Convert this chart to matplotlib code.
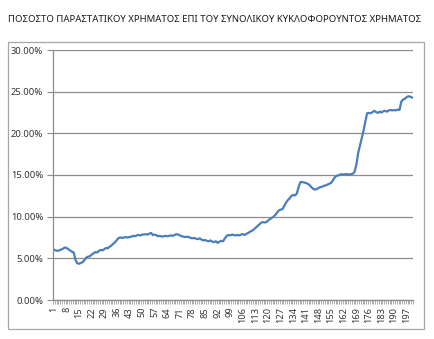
import matplotlib.pyplot as plt
from matplotlib.patches import Rectangle
from matplotlib.ticker import FixedLocator, PercentFormatter

plt.rcParams['font.family'] = ['Noto Sans', 'DejaVu Sans']

title = "ΠΟΣΟΣΤΟ ΠΑΡΑΣΤΑΤΙΚΟΥ ΧΡΗΜΑΤΟΣ ΕΠΙ ΤΟΥ ΣΥΝΟΛΙΚΟΥ ΚΥΚΛΟΦΟΡΟΥΝΤΟΣ ΧΡΗΜΑΤΟΣ"

# share of fiat money in total money in circulation (%), one value per period
share = [
    6.05, 5.95, 5.90, 5.95, 6.05, 6.15, 6.30, 6.25, 6.10, 5.95,
    5.80, 5.70, 4.80, 4.40, 4.35, 4.45, 4.55, 4.80, 5.10, 5.20,
    5.25, 5.45, 5.60, 5.75, 5.70, 5.90, 6.00, 5.95, 6.10, 6.25,
    6.20, 6.40, 6.55, 6.75, 6.95, 7.20, 7.45, 7.50, 7.45, 7.50,
    7.55, 7.50, 7.55, 7.60, 7.70, 7.65, 7.75, 7.80, 7.75, 7.85,
    7.85, 7.90, 7.85, 7.95, 8.05, 7.80, 7.85, 7.75, 7.65, 7.70,
    7.60, 7.65, 7.70, 7.65, 7.70, 7.75, 7.70, 7.80, 7.90, 7.85,
    7.75, 7.65, 7.60, 7.55, 7.60, 7.55, 7.45, 7.40, 7.45, 7.35,
    7.30, 7.40, 7.25, 7.15, 7.20, 7.10, 7.05, 7.15, 7.00, 6.95,
    7.05, 6.85, 7.00, 7.10, 7.05, 7.40, 7.70, 7.80, 7.75, 7.85,
    7.80, 7.75, 7.80, 7.75, 7.85, 7.90, 7.80, 7.95, 8.05, 8.20,
    8.30, 8.45, 8.65, 8.85, 9.05, 9.25, 9.35, 9.30, 9.35, 9.55,
    9.70, 9.85, 10.00, 10.20, 10.50, 10.75, 10.85, 10.90, 11.30, 11.70,
    12.00, 12.20, 12.50, 12.60, 12.55, 12.80, 13.60, 14.15, 14.15, 14.10,
    14.05, 13.95, 13.80, 13.55, 13.35, 13.25, 13.30, 13.45, 13.55, 13.60,
    13.70, 13.75, 13.85, 13.95, 14.05, 14.35, 14.70, 14.90, 14.95, 15.05,
    15.10, 15.05, 15.10, 15.10, 15.05, 15.10, 15.15, 15.35, 16.20, 17.60,
    18.50, 19.40, 20.30, 21.40, 22.40, 22.45, 22.40, 22.55, 22.70, 22.55,
    22.45, 22.60, 22.50, 22.65, 22.70, 22.60, 22.75, 22.80, 22.75, 22.80,
    22.75, 22.85, 22.80, 23.80, 24.05, 24.15, 24.35, 24.45, 24.40, 24.30,
]
periods = list(range(1, len(share) + 1))
label_periods = periods[::7]

fig = plt.figure(figsize=(4.34, 3.39), dpi=100)
fig.text(8 / 434, 1 - 20 / 339, title, fontsize=6.9, color='#1a1a1a',
         ha='left', va='center')

# chart frame
fig.patches.append(Rectangle((8 / 434, 1 - 329 / 339), 416 / 434, 287 / 339,
                             transform=fig.transFigure, fill=False,
                             edgecolor='#a6a6a6', linewidth=0.9))

ax = fig.add_axes([53 / 434, 1 - 300 / 339, 360 / 434, 250 / 339])
ax.plot(periods, share, color='#4a7ebb', linewidth=1.6, solid_joinstyle='round')

ax.set_xlim(0.5, len(share) + 0.5)
ax.set_ylim(0, 30)
ax.set_yticks(range(0, 31, 5))
ax.yaxis.set_major_formatter(PercentFormatter(decimals=2))
ax.yaxis.grid(True, color='#8c8c8c', linewidth=0.9)
ax.set_axisbelow(True)

ax.set_xticks(label_periods)
ax.set_xticklabels([str(p) for p in label_periods], rotation=90)
ax.xaxis.set_minor_locator(FixedLocator([p + 0.5 for p in range(0, len(share) + 1)]))
ax.tick_params(axis='x', which='major', length=0, pad=5, labelsize=6.6, colors='#333333')
ax.tick_params(axis='x', which='minor', length=3, width=0.5, color='#8c8c8c')
ax.tick_params(axis='y', length=4, width=0.8, color='#8c8c8c', labelsize=6.8,
               labelcolor='#333333', pad=3)

for side in ('top', 'right'):
    ax.spines[side].set_visible(False)
for side in ('left', 'bottom'):
    ax.spines[side].set_color('#8c8c8c')
    ax.spines[side].set_linewidth(0.9)

fig.savefig('out.png', dpi=100)
